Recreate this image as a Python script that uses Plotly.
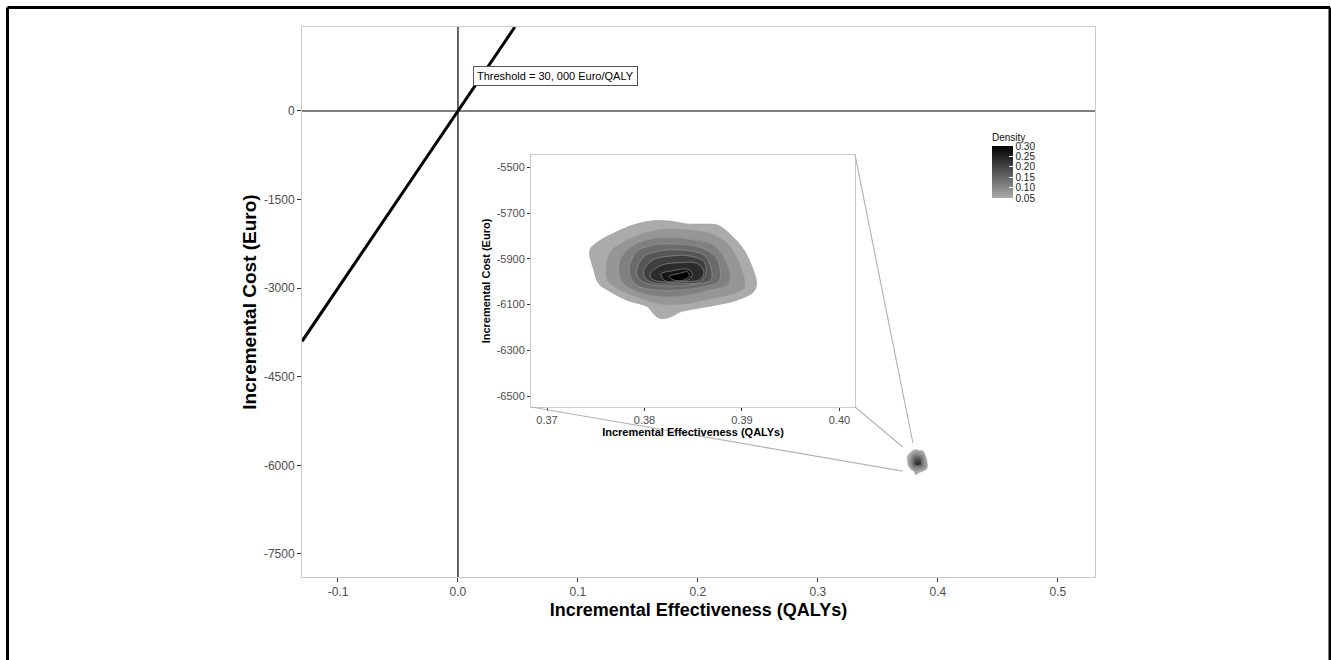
import plotly.graph_objects as go
from plotly.colors import sample_colorscale

W, H = 1331, 660
FONT = "Liberation Sans"
wtp = 30000  # Euro per QALY

# ---- main axes ----
x_range = [-0.13, 0.531]
y_range = [-7891, 1422]
x_ticks = [-0.1, 0.0, 0.1, 0.2, 0.3, 0.4, 0.5]
x_ticktext = ["-0.1", "0.0", "0.1", "0.2", "0.3", "0.4", "0.5"]
y_ticks = [0, -1500, -3000, -4500, -6000, -7500]
y_ticktext = ["0", "-1500", "-3000", "-4500", "-6000", "-7500"]

# ---- inset (magnified) axes ----
inset_x_range = [0.36836, 0.4016]
inset_y_range = [-6548, -5446]
inset_x_ticks = [0.37, 0.38, 0.39, 0.40]
inset_x_ticktext = ["0.37", "0.38", "0.39", "0.40"]
inset_y_ticks = [-5500, -5700, -5900, -6100, -6300, -6500]
inset_y_ticktext = ["-5500", "-5700", "-5900", "-6100", "-6300", "-6500"]

# ---- density contour levels (outer -> inner) ----
density_levels = [0.05, 0.08125, 0.1125, 0.14375, 0.175, 0.20625, 0.2375, 0.26875, 0.30]

c1_qaly = [0.3744, 0.3755, 0.3768, 0.3785, 0.3806, 0.3826, 0.3844, 0.3861, 0.3876, 0.3891, 0.3902,
           0.3911, 0.3915, 0.3912, 0.3895, 0.3874, 0.3854, 0.3837, 0.3826, 0.3816, 0.3809, 0.3803,
           0.3782, 0.3765, 0.3753, 0.3748]
c1_cost = [-5862, -5818, -5789, -5757, -5735, -5735, -5748, -5748, -5754, -5806, -5862,
           -5942, -6008, -6044, -6081, -6102, -6117, -6132, -6156, -6161, -6139, -6110,
           -6081, -6044, -6008, -5949]

c2_qaly = [0.3761, 0.3765, 0.3779, 0.3799, 0.3820, 0.3844, 0.3868, 0.3885, 0.3895, 0.3902, 0.3902,
           0.3885, 0.3861, 0.3840, 0.3816, 0.3792, 0.3772, 0.3762]
c2_cost = [-5935, -5869, -5825, -5789, -5771, -5774, -5789, -5833, -5898, -5978, -6030,
           -6059, -6081, -6098, -6098, -6066, -6030, -5993]

c3_qaly = [0.3774, 0.3782, 0.3799, 0.3823, 0.3847, 0.3871, 0.3883, 0.3888, 0.3885, 0.3864, 0.3840,
           0.3816, 0.3792, 0.3777]
c3_cost = [-5920, -5862, -5821, -5806, -5815, -5840, -5906, -5978, -6015, -6040, -6063,
           -6066, -6044, -6000]

c4_qaly = [0.3785, 0.3792, 0.3809, 0.3833, 0.3857, 0.3873, 0.3878, 0.3876, 0.3861, 0.3837, 0.3813,
           0.3792, 0.3785]
c4_cost = [-5927, -5869, -5840, -5836, -5850, -5891, -5957, -6000, -6022, -6037, -6037,
           -6015, -5971]

c5_qaly = [0.3792, 0.3799, 0.3816, 0.3840, 0.3861, 0.3868, 0.3868, 0.3851, 0.3826, 0.3803, 0.3794]
c5_cost = [-5949, -5891, -5865, -5862, -5884, -5935, -5993, -6011, -6019, -6008, -5986]

c6_qaly = [0.3799, 0.3808, 0.3826, 0.3847, 0.3861, 0.3863, 0.3857, 0.3837, 0.3813, 0.3802]
c6_cost = [-5957, -5906, -5888, -5888, -5913, -5964, -6000, -6008, -6008, -5990]

c7_qaly = [0.3806, 0.3818, 0.3837, 0.3854, 0.3861, 0.3857, 0.3840, 0.3816, 0.3807]
c7_cost = [-5964, -5927, -5917, -5920, -5957, -5990, -6000, -6000, -5986]

c8_qaly = [0.3817, 0.3829, 0.3844, 0.3849, 0.3846, 0.3832, 0.3821]
c8_cost = [-5967, -5952, -5945, -5964, -5990, -6000, -5996]

c9_qaly = [0.3825, 0.3836, 0.3844, 0.3846, 0.3840, 0.3830]
c9_cost = [-5976, -5964, -5957, -5976, -5993, -5993]

contours = [(c1_qaly, c1_cost), (c2_qaly, c2_cost), (c3_qaly, c3_cost), (c4_qaly, c4_cost),
            (c5_qaly, c5_cost), (c6_qaly, c6_cost), (c7_qaly, c7_cost), (c8_qaly, c8_cost),
            (c9_qaly, c9_cost)]

# points on the small main-plot cloud where the magnifier connector lines end
anchor_qaly = [0.3792, 0.3708, 0.3708]
anchor_cost = [-5622, -5690, -6097]

label_qaly, label_cost = 0.0813, 593
threshold_text = "Threshold = 30, 000 Euro/QALY"

# ---------------------------------------------------------------
density_scale = [[0, "#ababab"], [1, "#000000"]]
dmin, dmax = density_levels[0], density_levels[-1]
level_colors = sample_colorscale(density_scale, [(v - dmin) / (dmax - dmin) for v in density_levels])

inset_xdom = [0.2888, 0.6974]
inset_ydom = [0.3091, 0.7673]

fig = go.Figure()

# threshold line  cost = wtp * effect
x_end = y_range[1] / wtp
fig.add_trace(go.Scatter(x=[x_range[0], x_end], y=[wtp * x_range[0], wtp * x_end],
                         mode="lines", line=dict(color="black", width=3),
                         hoverinfo="skip", showlegend=False, xaxis="x", yaxis="y"))

for (axx, axy, lw) in [("x", "y", 0.3), ("x2", "y2", 0.6)]:
    for (cx, cy), col in zip(contours, level_colors):
        fig.add_trace(go.Scatter(x=cx + cx[:1], y=cy + cy[:1], mode="lines",
                                 line=dict(color="#9a9a9a", width=lw, shape="spline", smoothing=1.0),
                                 fill="toself", fillcolor=col, hoverinfo="skip",
                                 showlegend=False, xaxis=axx, yaxis=axy))

# invisible trace carrying the density colour bar
fig.add_trace(go.Scatter(
    x=[c9_qaly[0]], y=[c9_cost[0]], mode="markers", xaxis="x2", yaxis="y2",
    marker=dict(size=1, opacity=0, color=[dmin], cmin=dmin, cmax=dmax,
                colorscale=density_scale, showscale=True,
                colorbar=dict(title=dict(text="Density", side="top",
                                         font=dict(size=10, family=FONT, color="#111")),
                              tickvals=[0.05, 0.10, 0.15, 0.20, 0.25, 0.30],
                              ticktext=["0.05", "0.10", "0.15", "0.20", "0.25", "0.30"],
                              ticks="inside", tickcolor="white", ticklen=4,
                              tickfont=dict(size=10, family=FONT, color="#222"),
                              thickness=21, lenmode="pixels", len=68,
                              x=0.870, xanchor="left", xpad=0,
                              y=(577 - 198) / 550, yanchor="bottom", ypad=0,
                              outlinewidth=0)),
    hoverinfo="skip", showlegend=False))

shapes = []
# reference lines at 0
shapes.append(dict(type="line", xref="x", yref="paper", x0=0, x1=0, y0=0, y1=1,
                   line=dict(color="black", width=1.2), layer="below"))
shapes.append(dict(type="line", xref="paper", yref="y", x0=0, x1=1, y0=0, y1=0,
                   line=dict(color="black", width=1.2), layer="below"))


def to_px(v):
    return (v - x_range[0]) / (x_range[1] - x_range[0])


def to_py(v):
    return (v - y_range[0]) / (y_range[1] - y_range[0])


inset_corners = [(inset_xdom[1], inset_ydom[1]), (inset_xdom[1], inset_ydom[0]),
                 (inset_xdom[0], inset_ydom[0])]
for (cx, cy), ax_, ay_ in zip(inset_corners, anchor_qaly, anchor_cost):
    shapes.append(dict(type="line", xref="paper", yref="paper", x0=cx, y0=cy,
                       x1=to_px(ax_), y1=to_py(ay_), line=dict(color="#b5b5b5", width=1.2)))

# outer black frame
fl, fr, ft, fb = (7.5 - 302) / 793, (1330 - 302) / 793, (577 - 7.5) / 550, (577 - 670) / 550
for x0, y0, x1, y1 in [(fl, fb, fl, ft), (fl, ft, fr, ft), (fr, ft, fr, fb)]:
    shapes.append(dict(type="line", xref="paper", yref="paper", x0=x0, y0=y0, x1=x1, y1=y1,
                       line=dict(color="black", width=3)))

axis_common = dict(showgrid=False, zeroline=False, showline=True, mirror=True,
                   linecolor="#cccccc", linewidth=1, ticks="outside", tickcolor="#333333",
                   tickwidth=1)

fig.update_layout(
    width=W, height=H,
    margin=dict(l=302, r=W - 1095, t=27, b=H - 577),
    paper_bgcolor="white", plot_bgcolor="white",
    font=dict(family=FONT),
    xaxis=dict(**axis_common, range=x_range, tickvals=x_ticks, ticktext=x_ticktext, ticklen=4,
               tickfont=dict(size=12, color="#4d4d4d"), domain=[0, 1],
               title=dict(text="Incremental Effectiveness (QALYs)", standoff=4,
                          font=dict(size=18, color="black", weight="bold"))),
    yaxis=dict(**axis_common, range=y_range, tickvals=y_ticks, ticktext=y_ticktext, ticklen=4,
               tickfont=dict(size=12, color="#4d4d4d"), domain=[0, 1],
               title=dict(text="Incremental Cost (Euro)", standoff=2,
                          font=dict(size=19, color="black", weight="bold"))),
    xaxis2=dict(**axis_common, range=inset_x_range, tickvals=inset_x_ticks,
                ticktext=inset_x_ticktext, ticklen=3, anchor="y2", domain=inset_xdom,
                tickfont=dict(size=11, color="#4d4d4d"),
                title=dict(text="Incremental Effectiveness (QALYs)", standoff=0,
                           font=dict(size=11, color="black", weight="bold"))),
    yaxis2=dict(**axis_common, range=inset_y_range, tickvals=inset_y_ticks,
                ticktext=inset_y_ticktext, ticklen=3, anchor="x2", domain=inset_ydom,
                tickfont=dict(size=11, color="#4d4d4d"),
                title=dict(text="Incremental Cost (Euro)", standoff=3,
                           font=dict(size=11, color="black", weight="bold"))),
    shapes=shapes,
    annotations=[dict(x=label_qaly, y=label_cost, xref="x", yref="y", text=threshold_text,
                      showarrow=False, font=dict(size=11, color="black"),
                      bgcolor="white", bordercolor="#555555", borderwidth=1, borderpad=3)],
)

fig.write_html("out.html", config={"displayModeBar": False},
               post_script="document.body.style.margin='0';document.body.style.overflow='hidden';")
